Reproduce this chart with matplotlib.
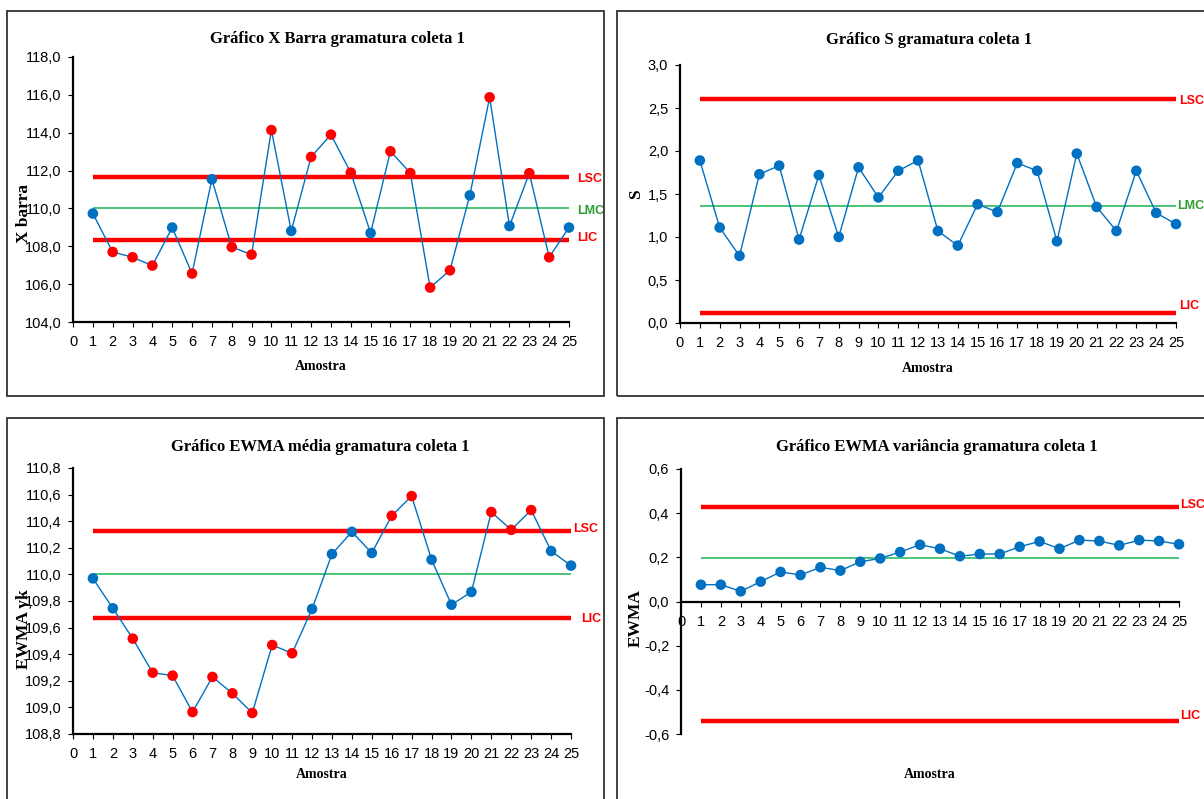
import matplotlib
matplotlib.use('Agg')
import matplotlib.pyplot as plt
import matplotlib.patches as patches
from matplotlib.ticker import FuncFormatter, MultipleLocator

# amostras 1..25
amostra = list(range(1, 26))

# Grafico X Barra
xBarra = [109.73, 107.70, 107.42, 106.98, 108.99, 106.56, 111.54, 107.96, 107.56, 114.14,
		  108.81, 112.72, 113.90, 111.89, 108.70, 113.02, 111.87, 105.82, 106.73, 110.69,
		  115.87, 109.07, 111.86, 107.42, 108.99]
xBarraLim = [111.66, 110.0, 108.33]   # LSC, LMC, LIC

# Grafico S
sVals = [1.89, 1.11, 0.78, 1.73, 1.83, 0.97, 1.72, 1.00, 1.81, 1.46,
		 1.77, 1.89, 1.07, 0.90, 1.38, 1.29, 1.86, 1.77, 0.95, 1.97,
		 1.35, 1.07, 1.77, 1.28, 1.15]
sLim = [2.61, 1.36, 0.12]

# Grafico EWMA media
ewmaMedia = [109.970, 109.745, 109.517, 109.261, 109.239, 108.965, 109.229, 109.106, 108.958, 109.469,
			 109.407, 109.740, 110.153, 110.320, 110.161, 110.441, 110.589, 110.111, 109.772, 109.868,
			 110.469, 110.335, 110.484, 110.176, 110.066]
ewmaMediaLim = [110.33, 110.0, 109.67]

# Grafico EWMA variancia
ewmaVar = [0.076, 0.076, 0.046, 0.090, 0.134, 0.120, 0.155, 0.140, 0.180, 0.195,
		   0.224, 0.257, 0.239, 0.205, 0.215, 0.215, 0.248, 0.272, 0.239, 0.278,
		   0.274, 0.254, 0.278, 0.274, 0.259]
ewmaVarLim = [0.426, 0.195, -0.543]

W, H = 1204, 799
BLUE = '#0070C0'
RED = '#FF0000'
GREEN = '#2E9E2E'
LMC_LINE = '#3CBF6A'
TICKFONT = 'Liberation Sans'
SERIF = 'Liberation Serif'


def pxAxes(left, top, right, bottom):
	return [left / W, 1 - bottom / H, (right - left) / W, (bottom - top) / H]


def commaFmt(v, pos):
	return ('%.1f' % v).replace('.', ',')


def drawBox(fig, left, top, right, bottom):
	rect = patches.Rectangle((left / W, 1 - bottom / H), (right - left) / W, (bottom - top) / H,
							 transform=fig.transFigure, fill=False, edgecolor='#333333', lw=1.3)
	fig.patches.append(rect)


def drawChart(fig, box, vals, lims, ylim, ystep, title, titlePos, ylabel, ylabelPos,
			  xlabelOff, labelOffs, zeroAxis=False):

	ax = fig.add_axes(pxAxes(*box))
	lsc, lmc, lic = lims

	# limites de controle
	ax.hlines([lsc, lic], amostra[0], amostra[-1], colors=RED, lw=3.2, zorder=2)
	ax.hlines(lmc, amostra[0], amostra[-1], colors=LMC_LINE, lw=1.3, zorder=2)

	# pontos fora dos limites em vermelho
	cores = [RED if (v > lsc or v < lic) else BLUE for v in vals]
	ax.plot(amostra, vals, color=BLUE, lw=1.0, zorder=3, clip_on=False)
	ax.scatter(amostra, vals, c=cores, s=58, zorder=4, linewidths=0, clip_on=False)

	for txt, val, col, off in zip(['LSC', 'LMC', 'LIC'], lims, [RED, GREEN, RED], labelOffs):
		if off is None:
			continue
		ax.annotate(txt, (amostra[-1], val), xytext=off, textcoords='offset points',
					color=col, fontsize=9, fontweight='bold', family=TICKFONT,
					va='center', ha='left', annotation_clip=False)
	pass

	ax.set_xlim(0, 25)
	ax.set_ylim(*ylim)
	ax.xaxis.set_major_locator(MultipleLocator(1))
	ax.yaxis.set_major_locator(MultipleLocator(ystep))
	ax.yaxis.set_major_formatter(FuncFormatter(commaFmt))

	for side in ['top', 'right']:
		ax.spines[side].set_visible(False)
	for side in ['left', 'bottom']:
		ax.spines[side].set_linewidth(1.6)
	if zeroAxis:
		ax.spines['bottom'].set_position(('data', 0))
	pass

	ax.tick_params(axis='x', direction='out', length=3.5, width=0.8, pad=6, labelsize=10.5)
	ax.tick_params(axis='y', direction='out', length=3.5, width=0.8, pad=5, labelsize=10.5)
	for lab in ax.get_xticklabels() + ax.get_yticklabels():
		lab.set_family(TICKFONT)
	pass
	ax.patch.set_alpha(0)

	fig.text(titlePos[0] / W, 1 - titlePos[1] / H, title, ha='center', va='center',
			 family=SERIF, fontweight='bold', fontsize=12)

	ax.set_ylabel(ylabel, family=SERIF, fontweight='bold', fontsize=12.5)
	ax.yaxis.set_label_coords(*ylabelPos)

	hgt = box[3] - box[1]
	ax.text(0.5, -xlabelOff / hgt, 'Amostra', transform=ax.transAxes, ha='center', va='center',
			family=SERIF, fontweight='bold', fontsize=10)

	return ax


def main():
	fig = plt.figure(figsize=(W / 100, H / 100), dpi=100)
	fig.patch.set_facecolor('white')

	drawBox(fig, 7, 11, 604, 396)
	drawBox(fig, 617, 11, 1210, 396)
	drawBox(fig, 7, 418, 604, 805)
	drawBox(fig, 617, 418, 1210, 805)

	drawChart(fig, (73, 57, 569, 322), xBarra, xBarraLim, (104, 118), 2.0,
			  'Gráfico X Barra gramatura coleta 1', (337, 39), 'X barra', (-0.083, 0.41),
			  45, [(6, -1.5), (6, -1.5), (6, 1.5)])

	drawChart(fig, (680, 65, 1176, 323), sVals, sLim, (0, 3), 0.5,
			  'Gráfico S gramatura coleta 1', (929, 40), 'S', (-0.073, 0.5),
			  46, [(2.5, -1.5), (0.5, 0), (2.5, 4.5)])

	drawChart(fig, (73, 468, 571, 734), ewmaMedia, ewmaMediaLim, (108.8, 110.8), 0.2,
			  'Gráfico EWMA média gramatura coleta 1', (320, 447), 'EWMA yk', (-0.083, 0.395),
			  40, [(1.5, 1), None, (7, -0.5)])

	drawChart(fig, (681, 469, 1179, 734), ewmaVar, ewmaVarLim, (-0.6, 0.6), 0.2,
			  'Gráfico EWMA variância gramatura coleta 1', (937, 447), 'EWMA', (-0.075, 0.438),
			  40, [(1, 1.5), None, (1, 4)], zeroAxis=True)

	fig.savefig('out.png', dpi=100)


if __name__ == "__main__":
	main()
pass
